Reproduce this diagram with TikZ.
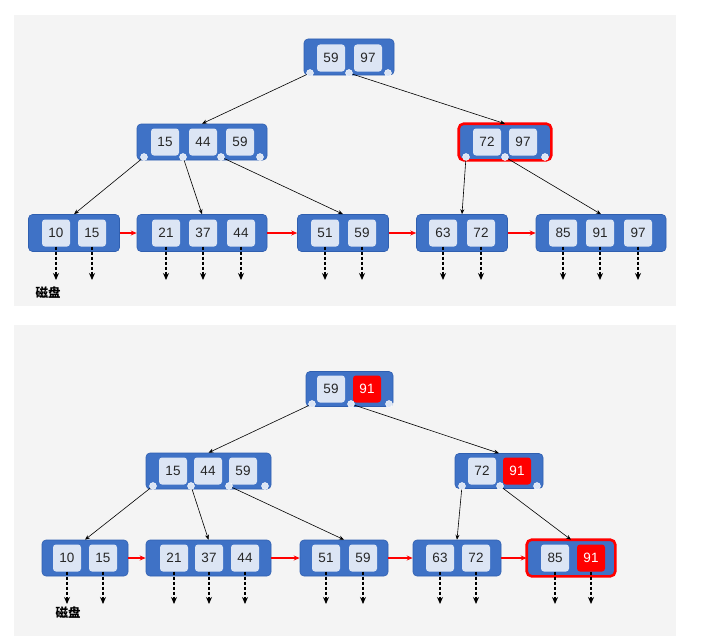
\documentclass[tikz,border=0pt]{standalone}
\usepackage{fontspec}
\setmainfont{Liberation Sans}
\newfontfamily\cjk{Noto Sans CJK SC}
\usetikzlibrary{arrows.meta}
\definecolor{nodeblue}{HTML}{3F72C6}
\definecolor{nodeedge}{HTML}{2F5FB0}
\definecolor{keyfill}{HTML}{DCE5F4}
\definecolor{panel}{HTML}{F4F4F4}
\definecolor{hot}{HTML}{FF0000}
\newcommand\kk[4]{\node[keybox] (#1) at (#2,#3) {#4};}
\newcommand\hk[4]{\node[hotkey] (#1) at (#2,#3) {#4};}
\newcommand\dt[3]{\node[dotnode] (#1) at (#2,#3) {};}
\newcommand\pt[2]{\coordinate (#1e) at (#1.south |- 0,#2); \draw[ptr] (#1.south) -- (#1e);}
\begin{document}
\begin{tikzpicture}[x=1pt,y=-1pt,
 bnode/.style={draw=nodeedge, fill=nodeblue, rounded corners=4pt, inner sep=0pt, line width=0.6pt},
 keybox/.style={fill=keyfill, rounded corners=3pt, minimum width=28pt, minimum height=27pt, inner sep=0pt, font=\fontsize{13.5}{15}\selectfont, text=black!85},
 hotkey/.style={keybox, fill=hot, text=white},
 dotnode/.style={circle, fill=keyfill, draw=white, line width=0.4pt, inner sep=0pt, minimum size=7pt},
 hilite/.style={draw=hot, line width=2.6pt, rounded corners=5pt},
 link/.style={-{Stealth[length=5pt,width=4pt]}, line width=0.6pt},
 ptr/.style={-{Stealth[length=7pt,width=6pt]}, dash pattern=on 3pt off 2pt, line width=1.9pt},
 nextlink/.style={draw=hot, line width=1.4pt, -{Stealth[length=6pt,width=5pt]}},
 disk/.style={font=\cjk\bfseries\fontsize{12.5}{14}\selectfont, inner sep=0pt}]
\useasboundingbox (0,0) rectangle (701,642);
\fill[panel] (14,15) rectangle (676,306);
\fill[panel] (14,325) rectangle (676,636);

% ===== top panel =====
\node[bnode, minimum width=90pt, minimum height=36pt] (T) at (349,57) {};
\kk{T1}{331}{58}{59}\kk{T2}{368}{58}{97}
\dt{Td1}{310}{73}\dt{Td2}{349}{73}\dt{Td3}{388}{73}

\node[bnode, minimum width=130pt, minimum height=36pt] (TA) at (202,142) {};
\kk{TA1}{165}{142}{15}\kk{TA2}{203}{142}{44}\kk{TA3}{240}{142}{59}
\dt{TAd1}{144}{157}\dt{TAd2}{183}{157}\dt{TAd3}{221}{157}\dt{TAd4}{260}{157}

\node[bnode, minimum width=92pt, minimum height=36pt] (TB) at (505,142) {};
\draw[hilite] (TB.north west) rectangle (TB.south east);
\kk{TB1}{487}{142}{72}\kk{TB2}{523}{142}{97}
\dt{TBd1}{466}{157}\dt{TBd2}{505}{157}\dt{TBd3}{545}{157}

\node[bnode, minimum width=91pt, minimum height=37pt] (TL1) at (74,233) {};
\kk{TL11}{56}{233}{10}\kk{TL12}{92}{233}{15}
\node[bnode, minimum width=130pt, minimum height=37pt] (TL2) at (202,233) {};
\kk{TL21}{166}{233}{21}\kk{TL22}{203}{233}{37}\kk{TL23}{241}{233}{44}
\node[bnode, minimum width=91pt, minimum height=37pt] (TL3) at (343,233) {};
\kk{TL31}{325}{233}{51}\kk{TL32}{362}{233}{59}
\node[bnode, minimum width=91pt, minimum height=37pt] (TL4) at (462,233) {};
\kk{TL41}{443}{233}{63}\kk{TL42}{481}{233}{72}
\node[bnode, minimum width=130pt, minimum height=37pt] (TL5) at (601,233) {};
\kk{TL51}{563}{233}{85}\kk{TL52}{600}{233}{91}\kk{TL53}{638}{233}{97}

\draw[link] (Td1) -- (TA.north);
\draw[link] (Td2) -- (TB.north);
\draw[link] (TAd1) -- (TL1.north);
\draw[link] (TAd2) -- (TL2.north);
\draw[link] (TAd3) -- (TL3.north);
\draw[link] (TBd1) -- (TL4.north);
\draw[link] (TBd2) -- (TL5.north);

\draw[nextlink] (TL1) -- (TL2);
\draw[nextlink] (TL2) -- (TL3);
\draw[nextlink] (TL3) -- (TL4);
\draw[nextlink] (TL4) -- (TL5);

\foreach \k in {TL11,TL12,TL21,TL22,TL23,TL31,TL32,TL41,TL42,TL51,TL52,TL53} {\pt{\k}{280}}
\node[disk] (Tdisk) at (48,293) {磁盘};

% ===== bottom panel =====
\node[bnode, minimum width=87pt, minimum height=35pt] (B) at (349.5,389) {};
\kk{B1}{331}{389}{59}\hk{B2}{367}{389}{91}
\dt{Bd1}{312}{404}\dt{Bd2}{351}{404}\dt{Bd3}{389}{404}

\node[bnode, minimum width=125pt, minimum height=36pt] (BA) at (208.5,471) {};
\kk{BA1}{173}{471}{15}\kk{BA2}{208}{471}{44}\kk{BA3}{243}{471}{59}
\dt{BAd1}{153}{486}\dt{BAd2}{191}{486}\dt{BAd3}{229}{486}\dt{BAd4}{265}{486}

\node[bnode, minimum width=88pt, minimum height=35pt] (BB) at (499,471) {};
\kk{BB1}{482}{471}{72}\hk{BB2}{517}{471}{91}
\dt{BBd1}{462}{486}\dt{BBd2}{500}{486}\dt{BBd3}{537}{486}

\node[bnode, minimum width=86pt, minimum height=36pt] (BL1) at (85,558) {};
\kk{BL11}{67}{558}{10}\kk{BL12}{103}{558}{15}
\node[bnode, minimum width=125pt, minimum height=36pt] (BL2) at (208.5,558) {};
\kk{BL21}{174}{558}{21}\kk{BL22}{209}{558}{37}\kk{BL23}{245}{558}{44}
\node[bnode, minimum width=88pt, minimum height=36pt] (BL3) at (344,558) {};
\kk{BL31}{326}{558}{51}\kk{BL32}{363}{558}{59}
\node[bnode, minimum width=88pt, minimum height=36pt] (BL4) at (457,558) {};
\kk{BL41}{440}{558}{63}\kk{BL42}{476}{558}{72}
\node[bnode, minimum width=88pt, minimum height=36pt] (BL5) at (571,558) {};
\draw[hilite] (BL5.north west) rectangle (BL5.south east);
\kk{BL51}{555}{558}{85}\hk{BL52}{591}{558}{91}

\draw[link] (Bd1) -- (BA.north);
\draw[link] (Bd2) -- (BB.north);
\draw[link] (BAd1) -- (BL1.north);
\draw[link] (BAd2) -- (BL2.north);
\draw[link] (BAd3) -- (BL3.north);
\draw[link] (BBd1) -- (BL4.north);
\draw[link] (BBd2) -- (BL5.north);

\draw[nextlink] (BL1) -- (BL2);
\draw[nextlink] (BL2) -- (BL3);
\draw[nextlink] (BL3) -- (BL4);
\draw[nextlink] (BL4) -- (BL5);

\foreach \k in {BL11,BL12,BL21,BL22,BL23,BL31,BL32,BL41,BL42,BL51,BL52} {\pt{\k}{604}}
\node[disk] (Bdisk) at (68,613) {磁盘};
\end{tikzpicture}
\end{document}
